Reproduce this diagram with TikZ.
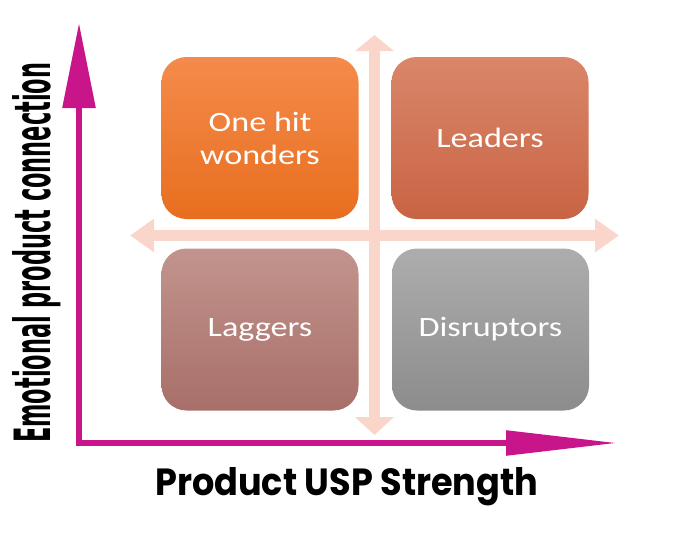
\documentclass[tikz,border=0pt]{standalone}
\usepackage{fontspec}
\usepackage{graphicx}
\setmainfont{Carlito}
\newfontfamily\axisfont{DejaVu Sans}
\newfontfamily\prodfont{Poppins}
\usetikzlibrary{arrows.meta}
\definecolor{mag}{HTML}{C8158A}
\definecolor{crossc}{HTML}{F9D6C9}
\definecolor{oTop}{HTML}{F48B4C}
\definecolor{oBot}{HTML}{E86E1E}
\definecolor{lTop}{HTML}{DA8669}
\definecolor{lBot}{HTML}{C86444}
\definecolor{gTop}{HTML}{C2948D}
\definecolor{gBot}{HTML}{A86F69}
\definecolor{dTop}{HTML}{ADADAD}
\definecolor{dBot}{HTML}{8C8C8C}
\newcommand{\widetxt}[1]{\scalebox{1.22}[1]{#1}}
\begin{document}
\begin{tikzpicture}[x=1pt,y=-1pt,
  quad/.style={rounded corners=25pt, minimum width=197pt, minimum height=162pt,
    inner sep=0pt, text=white, font=\fontsize{28}{33}\selectfont, align=center},
  crossarrow/.style={draw=crossc, line width=11pt},
  axisline/.style={draw=mag, line width=5.5pt, line join=miter}
]
\useasboundingbox (0,0) rectangle (694,536);
% cross arrows
\coordinate (cl) at (130,235.5);
\coordinate (cr) at (619,235.5);
\coordinate (ct) at (374.5,35);
\coordinate (cb) at (374.5,435);
\draw[crossarrow, {Triangle[length=24pt,width=32pt]}-{Triangle[length=24pt,width=32pt]}] (cl) -- (cr);
\draw[crossarrow, {Triangle[length=16pt,width=38pt]}-{Triangle[length=18pt,width=38pt]}] (ct) -- (cb);
% quadrants
\node[quad, top color=oTop, bottom color=oBot] (ohw) at (260,138) {\widetxt{One hit}\\\widetxt{wonders}};
\node[quad, top color=lTop, bottom color=lBot] (lead) at (490,138) {\widetxt{Leaders}};
\node[quad, top color=gTop, bottom color=gBot] (lag) at (260,329.5) {\widetxt{Laggers}};
\node[quad, top color=dTop, bottom color=dBot] (dis) at (490.5,329.5) {\widetxt{Disruptors}};
% axes
\coordinate (ytip) at (79,23);
\coordinate (orig) at (79,443);
\coordinate (xtip) at (617,443);
\draw[axisline, {Triangle[length=85pt,width=32pt]}-{Triangle[length=111pt,width=24pt]}] (ytip) -- (orig) -- (xtip);
% labels
\node[rotate=90, anchor=base west, inner sep=0pt] (ylab) at (50,443)
  {\resizebox{380pt}{38pt}{\axisfont\bfseries Emotional product connection}};
\node[anchor=base west, inner sep=0pt] (xlab) at (155,495)
  {\resizebox{383pt}{28pt}{\prodfont\bfseries Product USP Strength}};
\end{tikzpicture}
\end{document}
